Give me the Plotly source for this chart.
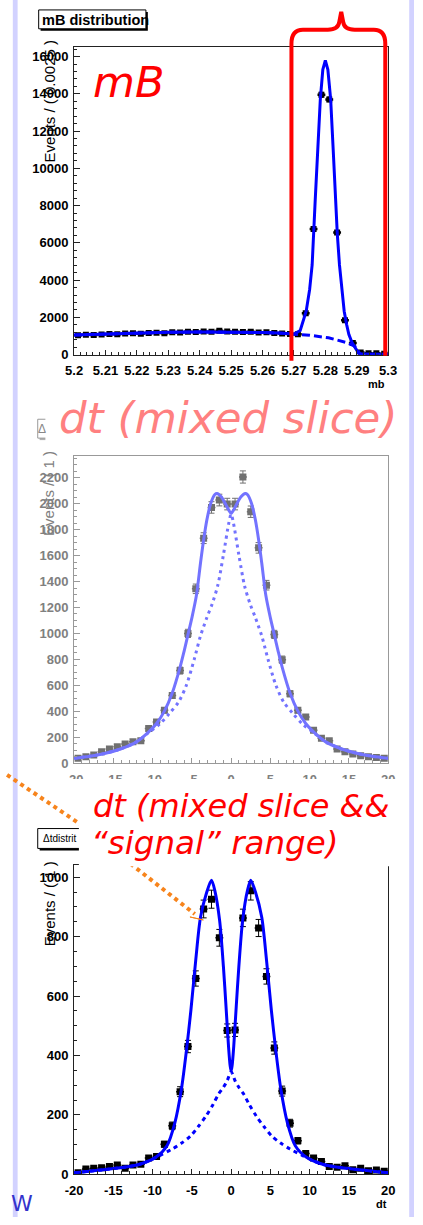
import plotly.graph_objects as go

W, H = 423, 1225

# ---------------- Panel 1 : mB distribution ----------------
mb_bin_centers = [5.20125, 5.20375, 5.20625, 5.20875, 5.21125, 5.21375, 5.21625, 5.21875,
                  5.22125, 5.22375, 5.22625, 5.22875, 5.23125, 5.23375, 5.23625, 5.23875,
                  5.24125, 5.24375, 5.24625, 5.24875, 5.25125, 5.25375, 5.25625, 5.25875,
                  5.26125, 5.26375, 5.26625, 5.26875, 5.27125, 5.27375, 5.27625, 5.27875,
                  5.28125, 5.28375, 5.28625, 5.28875, 5.29125, 5.29375, 5.29625, 5.29875]
mb_counts = [1040, 1070, 1055, 1080, 1110, 1095, 1130, 1150,
             1125, 1160, 1175, 1150, 1200, 1190, 1230, 1210,
             1240, 1225, 1285, 1250, 1230, 1215, 1225, 1195,
             1205, 1160, 1130, 1110, 1090, 2220, 6750, 13950,
             13700, 6560, 1850, 620, 110, 80, 70, 50]
mb_bin_half = 0.00125
mb_fit_x = [5.200, 5.210, 5.220, 5.230, 5.240, 5.250, 5.260, 5.265, 5.270, 5.2720,
            5.2739, 5.2750, 5.2758, 5.2768, 5.2775, 5.2784, 5.2792, 5.2800, 5.2808, 5.2817,
            5.2825, 5.2831, 5.2838, 5.2845, 5.2853, 5.2860, 5.2868, 5.2875, 5.2885, 5.2895,
            5.2905, 5.2915, 5.3000]
mb_fit_y = [1060, 1110, 1160, 1200, 1220, 1220, 1190, 1160, 1110, 1300,
            2330, 3500, 4815, 8373, 11000, 13700, 15300, 15800, 15300, 13700,
            11000, 8700, 6500, 4815, 3300, 2330, 1600, 1080, 650, 350,
            100, 30, 20]
mb_bkg_x = [5.200, 5.210, 5.220, 5.230, 5.240, 5.250, 5.260, 5.265, 5.270, 5.275,
            5.281, 5.285, 5.287, 5.289, 5.290, 5.2905, 5.291, 5.300]
mb_bkg_y = [1060, 1110, 1160, 1200, 1220, 1220, 1190, 1160, 1110, 1040,
            907, 740, 640, 480, 373, 200, 0, 0]
mb_xtick_vals = [5.20, 5.21, 5.22, 5.23, 5.24, 5.25, 5.26, 5.27, 5.28, 5.29, 5.30]
mb_xtick_text = ["5.2", "5.21", "5.22", "5.23", "5.24", "5.25", "5.26", "5.27", "5.28", "5.29", "5.3"]
mb_ytick_vals = [0, 2000, 4000, 6000, 8000, 10000, 12000, 14000, 16000]
mb_ytick_text = ["0", "2000", "4000", "6000", "8000", "10000", "12000", "14000", "16000"]

# ---------------- dt binning (panels 2 and 3) ----------------
dt_bin_centers = [-19.5, -18.5, -17.5, -16.5, -15.5, -14.5, -13.5, -12.5, -11.5, -10.5,
                  -9.5, -8.5, -7.5, -6.5, -5.5, -4.5, -3.5, -2.5, -1.5, -0.5,
                  0.5, 1.5, 2.5, 3.5, 4.5, 5.5, 6.5, 7.5, 8.5, 9.5,
                  10.5, 11.5, 12.5, 13.5, 14.5, 15.5, 16.5, 17.5, 18.5, 19.5]
dt_bin_half = 0.5
dt_xtick_vals = [-20, -15, -10, -5, 0, 5, 10, 15, 20]
dt_xtick_text = ["-20", "-15", "-10", "-5", "0", "5", "10", "15", "20"]

# ---------------- Panel 2 : dt, mixed slice ----------------
mixed_counts = [36, 48, 61, 87, 107, 125, 146, 163, 171, 266,
                317, 406, 521, 713, 1000, 1344, 1735, 1972, 2029, 1998,
                1998, 2207, 1939, 1660, 1372, 992, 797, 534, 406, 355,
                253, 190, 171, 107, 87, 69, 56, 48, 43, 36]
mixed_fit_x = [-20, -18, -16, -14, -12, -10.5, -9.5, -8.5, -7.5, -6.5, -6.0, -5.5, -5.0, -4.43,
               -3.9, -3.5, -3.09, -2.6, -2.07, -1.8, -1.26, -0.65, -0.24, 0,
               0.24, 0.65, 1.26, 1.8, 2.07, 2.6, 3.09, 3.5, 3.9,
               4.43, 5.0, 5.5, 6.0, 6.5, 7.5, 8.5, 9.5, 10.5, 12, 14, 16, 18, 20]
mixed_fit_y = [36, 52, 75, 110, 165, 240, 305, 400, 540, 740, 860, 990, 1120, 1290,
               1543, 1722, 1876, 2003, 2072, 2080, 2054, 1991, 1945, 1926,
               1945, 1991, 2054, 2080, 2072, 2003, 1876, 1722, 1543,
               1290, 1120, 990, 860, 740, 540, 400, 305, 240, 165, 110, 75, 52, 36]
mixed_bkg_x = [-20, -18, -16, -14, -12, -10.5, -9.1, -7.9, -6.7, -5.7, -4.7, -3.9, -3.1, -2.4,
               -1.7, -1.0, -0.3, 0, 0.3, 1.0, 1.7, 2.4, 3.1, 3.9, 4.7, 5.7, 6.7, 7.9, 9.1,
               10.5, 12, 14, 16, 18, 20]
mixed_bkg_y = [36, 52, 75, 110, 165, 235, 300, 380, 470, 600, 800, 981, 1120, 1230,
               1370, 1600, 1850, 1920, 1850, 1600, 1370, 1230, 1120, 981, 800, 600, 470, 380, 300,
               235, 165, 110, 75, 52, 36]
mixed_ytick_vals = [0, 200, 400, 600, 800, 1000, 1200, 1400, 1600, 1800, 2000, 2200]
mixed_ytick_text = ["0", "200", "400", "600", "800", "1000", "1200", "1400", "1600", "1800", "2000", "2200"]

# ---------------- Panel 3 : dt, mixed slice && signal range ----------------
signal_counts = [5, 18, 20, 22, 26, 31, 20, 31, 34, 55,
                 60, 101, 163, 278, 430, 659, 893, 926, 796, 484,
                 486, 863, 954, 829, 666, 425, 280, 172, 113, 70,
                 55, 43, 26, 24, 29, 15, 20, 12, 14, 10]
signal_fit_x = [-20, -16, -12, -9.6, -8.17, -7.16, -6.34, -5.73, -5.12, -4.51, -3.9, -3.1,
                -2.5, -2.07, -1.46, -0.98, -0.65, -0.33, -0.12, 0, 0.12, 0.33, 0.65, 0.98,
                1.46, 2.07, 2.5, 3.1, 3.9, 4.51, 5.12, 5.73, 6.34, 7.16, 8.17, 9.6, 12, 16, 20]
signal_fit_y = [5, 16, 31, 57, 96, 174, 285, 408, 553, 720, 865, 950,
                990, 954, 853, 698, 564, 430, 364, 347, 364, 430, 564, 698,
                853, 954, 990, 950, 865, 720, 553, 408, 285, 174, 96, 57, 31, 16, 5]
signal_bkg_x = [-20, -16, -12, -10.5, -9.1, -7.5, -6.3, -5.2, -4.2, -3.2, -2.3, -1.6, -1.0, -0.5,
                0, 0.5, 1.0, 1.6, 2.3, 3.2, 4.2, 5.2, 6.3, 7.5, 9.1, 10.5, 12, 16, 20]
signal_bkg_y = [5, 16, 31, 45, 63, 85, 105, 128, 160, 196, 235, 270, 292, 315,
                345, 315, 292, 270, 235, 196, 160, 128, 105, 85, 63, 45, 31, 16, 5]
signal_ytick_vals = [0, 200, 400, 600, 800, 1000]
signal_ytick_text = ["0", "200", "400", "600", "800", "1000"]

# ---------------- helpers (pixel -> paper) ----------------
def pxx(x):
    return x / W


def pxy(y):
    return 1 - y / H


def path(points, close=False):
    s = ""
    for cmd, pts in points:
        s += cmd + " " + " ".join(f"{pxx(a):.5f},{pxy(b):.5f}" for a, b in pts) + " "
    if close:
        s += "Z"
    return s


BLUE = "#0000ff"
LBLUE = "#7373ff"
GRAY = "#707070"
FONT = "Liberation Sans"

fig = go.Figure()

# Panel 1 traces
fig.add_trace(go.Scatter(x=mb_bin_centers, y=mb_counts, mode="markers", xaxis="x", yaxis="y",
                         marker=dict(symbol="square", size=6, color="black"),
                         error_y=dict(type="sqrt", width=2, thickness=1.5, color="black"),
                         error_x=dict(type="constant", value=mb_bin_half, width=0, thickness=2.5, color="black")))
fig.add_trace(go.Scatter(x=mb_bkg_x, y=mb_bkg_y, mode="lines", xaxis="x", yaxis="y",
                         line=dict(color=BLUE, width=3, dash="8px,4px")))
fig.add_trace(go.Scatter(x=mb_fit_x, y=mb_fit_y, mode="lines", xaxis="x", yaxis="y",
                         line=dict(color=BLUE, width=3)))

# Panel 2 traces
fig.add_trace(go.Scatter(x=dt_bin_centers, y=mixed_counts, mode="markers", xaxis="x2", yaxis="y2",
                         marker=dict(symbol="square", size=7, color=GRAY),
                         error_y=dict(type="sqrt", width=3, thickness=1, color=GRAY),
                         error_x=dict(type="constant", value=dt_bin_half, width=0, thickness=1.5, color=GRAY)))
fig.add_trace(go.Scatter(x=mixed_bkg_x, y=mixed_bkg_y, mode="lines", xaxis="x2", yaxis="y2",
                         line=dict(color=LBLUE, width=3, dash="3px,4px", shape="spline", smoothing=0.8)))
fig.add_trace(go.Scatter(x=mixed_fit_x, y=mixed_fit_y, mode="lines", xaxis="x2", yaxis="y2",
                         line=dict(color=LBLUE, width=3, shape="spline", smoothing=0.8)))

# Panel 3 traces
fig.add_trace(go.Scatter(x=dt_bin_centers, y=signal_counts, mode="markers", xaxis="x3", yaxis="y3",
                         marker=dict(symbol="square", size=7, color="black"),
                         error_y=dict(type="sqrt", width=3, thickness=1, color="black"),
                         error_x=dict(type="constant", value=dt_bin_half, width=0, thickness=1.5, color="black")))
fig.add_trace(go.Scatter(x=signal_bkg_x, y=signal_bkg_y, mode="lines", xaxis="x3", yaxis="y3",
                         line=dict(color=BLUE, width=3, dash="4px,4px", shape="spline", smoothing=0.8)))
fig.add_trace(go.Scatter(x=signal_fit_x, y=signal_fit_y, mode="lines", xaxis="x3", yaxis="y3",
                         line=dict(color=BLUE, width=3, shape="spline", smoothing=0.8)))


def xax(anchor, rng, tv, tt, minor_dtick, col, labcol, ticklen=5):
    return dict(domain=[pxx(68), pxx(396)], anchor=anchor, range=rng,
                tickmode="array", tickvals=tv, ticktext=tt,
                ticks="inside", ticklen=ticklen, tickwidth=1, tickcolor=col,
                showline=True, linecolor=col, linewidth=1, mirror=True,
                showgrid=False, zeroline=False, ticklabelstandoff=4,
                tickfont=dict(family=FONT, size=13, color=labcol, weight="bold"),
                minor=dict(ticks="inside", ticklen=3, tickmode="linear", tick0=rng[0], dtick=minor_dtick,
                           tickcolor=col, showgrid=False))


def yax(anchor, top, bottom, rng, tv, tt, minor_dtick, col, labcol):
    return dict(domain=[pxy(bottom), pxy(top)], anchor=anchor, range=rng,
                tickmode="array", tickvals=tv, ticktext=tt,
                ticks="inside", ticklen=6, tickwidth=1, tickcolor=col,
                showline=True, linecolor=col, linewidth=1, mirror=True,
                showgrid=False, zeroline=False, ticklabelstandoff=2,
                tickfont=dict(family=FONT, size=13, color=labcol, weight="bold"),
                minor=dict(ticks="inside", ticklen=3, tickmode="linear", tick0=0, dtick=minor_dtick,
                           tickcolor=col, showgrid=False))


fig.update_layout(
    width=W, height=H, autosize=False,
    margin=dict(l=0, r=0, t=0, b=0),
    paper_bgcolor="white", plot_bgcolor="white",
    showlegend=False,
    font=dict(family=FONT),
    xaxis=xax("y", [5.2, 5.3], mb_xtick_vals, mb_xtick_text, 0.002, "#222222", "black"),
    yaxis=yax("x", 47, 357, [0, 16530], mb_ytick_vals, mb_ytick_text, 400, "#222222", "black"),
    xaxis2=xax("y2", [-20, 20], dt_xtick_vals, dt_xtick_text, 1, "#999999", "#808080"),
    yaxis2=yax("x2", 459, 768, [0, 2369], mixed_ytick_vals, mixed_ytick_text, 50, "#999999", "#808080"),
    xaxis3=xax("y3", [-20, 20], dt_xtick_vals, dt_xtick_text, 1, "#222222", "black"),
    yaxis3=yax("x3", 871, 1182, [0, 1040], signal_ytick_vals, signal_ytick_text, 50, "#222222", "black"),
)

shapes = []


def rect(x0, y0, x1, y1, fill="white", line=None, lw=0):
    shapes.append(dict(type="rect", xref="paper", yref="paper", layer="above",
                       x0=pxx(x0), x1=pxx(x1), y0=pxy(y1), y1=pxy(y0), fillcolor=fill,
                       line=dict(width=lw, color=line if line else fill)))


# lavender side stripes
rect(4, 0, 9, 1225, fill="#d2d2ff")
rect(418, 0, 423, 1225, fill="#d2d2ff")

# panel 1 title box with shadow
rect(33, 12, 145, 31, fill="black")
rect(31, 10, 143, 29, fill="white", line="black", lw=1)

# red brace over the signal region
brace = path([("M", [(295, 363)]), ("L", [(295, 44)]), ("Q", [(295, 30), (307, 30)]),
              ("L", [(333, 30)]), ("Q", [(344, 30), (345, 22)]), ("L", [(347, 12)]),
              ("L", [(349, 22)]), ("Q", [(350, 30), (361, 30)]), ("L", [(381, 30)]),
              ("Q", [(393, 30), (393, 44)]), ("L", [(393, 358)])])
shapes.append(dict(type="path", xref="paper", yref="paper", layer="above", path=brace,
                   line=dict(color="#ff0000", width=4)))

# panel 2 title box (mostly hidden)
rect(32, 424, 62, 443, fill="#b0b0b0")
rect(30, 422, 60, 441, fill="white", line="#999999", lw=1)

# panel 3 title box (partly hidden)
rect(32, 836, 112, 856, fill="black")
rect(30, 834, 110, 854, fill="white", line="black", lw=1)

# white cover for bottom of panel-2 tick labels
rect(12, 784, 412, 800)

# orange dotted arrow
arrow = path([("M", [(-2, 780)]), ("L", [(72, 828)]), ("L", [(194, 920)])])
shapes.append(dict(type="path", xref="paper", yref="paper", layer="above", path=arrow,
                   line=dict(color="#f7841c", width=4, dash="4px,4px")))
head = path([("M", [(203, 926)]), ("L", [(189, 923), (196, 913)])], close=True)
shapes.append(dict(type="path", xref="paper", yref="paper", layer="above", path=head,
                   fillcolor="#f7841c", line=dict(color="#f7841c", width=1)))

# white text boxes
rect(73, 784, 412, 872)
rect(38, 380, 412, 447)

fig.update_layout(shapes=shapes)

ann = []


def text(x, y, s, size, color="black", xanchor="left", yanchor="middle", angle=0,
         family=FONT, weight="normal", style="normal"):
    ann.append(dict(xref="paper", yref="paper", x=pxx(x), y=pxy(y), text=s, showarrow=False,
                    xanchor=xanchor, yanchor=yanchor, textangle=angle,
                    font=dict(family=family, size=size, color=color, weight=weight, style=style)))


text(32, 20, "mB distribution", 14.5, weight="bold")
text(42, 102, "Events / ( 0.0025 )", 15, xanchor="center", angle=-90)
text(384, 387, "mb", 11, xanchor="center", weight="bold")
text(86, 83, "mB", 43, color="#ff0000", family="DejaVu Sans", style="italic")

text(50, 421, "dt (mixed slice)", 43.5, color="#ff8080", family="DejaVu Sans", style="italic")
text(34, 432, "Δ", 12, color="#888888", xanchor="center")
text(42, 497, "Events / ( 1 )", 15, color="#808080", xanchor="center", angle=-90)

text(33, 844, "Δtdistrit", 10)
text(86, 811, "dt (mixed slice &&", 32, color="#ff0000", family="DejaVu Sans", style="italic")
text(84, 849, "“signal” range)", 32.5, color="#ff0000", family="DejaVu Sans", style="italic")
text(42, 910, "Events / ( 1 )", 15, xanchor="center", angle=-90)
text(389, 1212, "dt", 11, xanchor="center", weight="bold")
text(0, 1211, "W", 22, color="#3333cc", family="DejaVu Sans")

fig.update_layout(annotations=ann)

fig.write_html("out.html",
               config={"staticPlot": True, "displayModeBar": False},
               post_script="document.body.style.margin='0px';document.body.style.overflow='hidden';")
